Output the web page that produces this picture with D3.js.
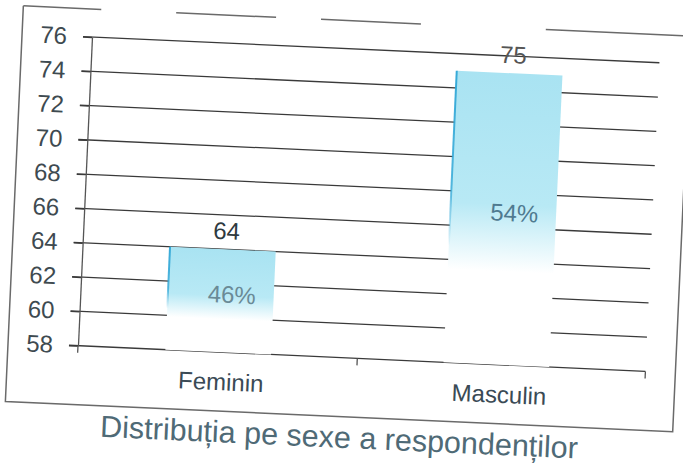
<!DOCTYPE html>
<html>
<head>
<meta charset="utf-8">
<script src="https://cdn.jsdelivr.net/npm/d3@7"></script>
<style>
  html, body { margin: 0; padding: 0; background: #ffffff; }
  svg { display: block; }
  text { font-family: "Liberation Sans", Arial, sans-serif; }
</style>
</head>
<body>
<script>
// ---- data ----
const categories = ["Feminin", "Masculin"];
const values = [64, 75];
const percentLabels = ["46%", "54%"];
const yTicks = [58, 60, 62, 64, 66, 68, 70, 72, 74, 76];
const titleText = "Distribuția pe sexe a respondenților";

// ---- layout ----
const W = 683, H = 468;
const svg = d3.select("body").append("svg").attr("width", W).attr("height", H);

const defs = svg.append("defs");
const barGrad = defs.append("linearGradient").attr("id", "barGrad")
  .attr("x1", 0).attr("y1", 0).attr("x2", 0).attr("y2", 1);
barGrad.append("stop").attr("offset", 0).attr("stop-color", "#a9e3f2");
barGrad.append("stop").attr("offset", 0.45).attr("stop-color", "#b8e9f5");
barGrad.append("stop").attr("offset", 0.68).attr("stop-color", "#ffffff");
barGrad.append("stop").attr("offset", 1).attr("stop-color", "#ffffff");

const edgeGrad = defs.append("linearGradient").attr("id", "edgeGrad")
  .attr("x1", 0).attr("y1", 0).attr("x2", 0).attr("y2", 1);
edgeGrad.append("stop").attr("offset", 0).attr("stop-color", "#2ea6d6").attr("stop-opacity", 0.95);
edgeGrad.append("stop").attr("offset", 0.4).attr("stop-color", "#2ea6d6").attr("stop-opacity", 0.8);
edgeGrad.append("stop").attr("offset", 0.6).attr("stop-color", "#2ea6d6").attr("stop-opacity", 0);

const g = svg.append("g").attr("transform", "rotate(2.6 92 37)");

const y = d3.scaleLinear().domain([58, 76]).range([346, 37]);
const x = d3.scaleBand().domain(categories).range([92, 660])
  .paddingInner(0.62).paddingOuter(0.33).align(0.476);

// outer frame (scan-like, top edge broken)
const fr = { x0: 22, y0: 9, x1: 690, y1: 405 };
g.append("path")
  .attr("d", `M${fr.x0},${fr.y0} L${fr.x0},${fr.y1} L${fr.x1},${fr.y1} L${fr.x1},${fr.y0 + 20}`)
  .attr("fill", "none").attr("stroke", "#6a6a6a").attr("stroke-width", 1.5);
g.append("line")
  .attr("x1", fr.x0).attr("x2", fr.x1).attr("y1", fr.y0).attr("y2", fr.y0)
  .attr("stroke", "#6a6a6a").attr("stroke-width", 1.5)
  .attr("stroke-dasharray", "78,75,100,45,100,125,145");

// gridlines
g.append("g").selectAll("line").data(yTicks).join("line")
  .attr("x1", 83).attr("x2", x.range()[1])
  .attr("y1", d => y(d)).attr("y2", d => y(d))
  .attr("stroke", "#3a3a3a").attr("stroke-width", 1.3);

// bars
g.append("g").selectAll("rect").data(values).join("rect")
  .attr("x", (d, i) => x(categories[i]))
  .attr("width", x.bandwidth())
  .attr("y", d => y(d))
  .attr("height", d => y(58) - y(d))
  .attr("fill", "url(#barGrad)");

// bar left edges
g.append("g").selectAll("rect").data(values).join("rect")
  .attr("x", (d, i) => x(categories[i]) - 1)
  .attr("width", 2)
  .attr("y", d => y(d))
  .attr("height", d => y(58) - y(d))
  .attr("fill", "url(#edgeGrad)");

// y axis
const yAxis = g.append("g").attr("transform", "translate(92,0)")
  .call(d3.axisLeft(y).tickValues(yTicks).tickSize(9).tickSizeOuter(0).tickPadding(16));
yAxis.select(".domain").attr("stroke", "#555").attr("stroke-width", 1.3);
yAxis.selectAll(".tick line").attr("stroke", "#3a3a3a").attr("stroke-width", 1.3);
yAxis.selectAll(".tick text")
  .attr("fill", "#3e4a50").style("font-size", "24px")
  .style("font-family", "'Liberation Sans', Arial, sans-serif");

// category boundary ticks
const boundaries = [x.range()[0],
  x(categories[0]) + x.bandwidth() + (x.step() - x.bandwidth()) / 2,
  x.range()[1]];
g.append("g").selectAll("line").data(boundaries).join("line")
  .attr("x1", d => d).attr("x2", d => d)
  .attr("y1", y(58)).attr("y2", y(58) + 7)
  .attr("stroke", "#555").attr("stroke-width", 1.3);

// category labels
g.append("g").selectAll("text").data(categories).join("text")
  .attr("x", d => x(d) + x.bandwidth() / 2 + 4)
  .attr("y", y(58) + 38)
  .attr("text-anchor", "middle")
  .attr("fill", "#3a4a55")
  .style("font-size", "24px")
  .text(d => d);

// value labels
g.append("g").selectAll("text").data(values).join("text")
  .attr("x", (d, i) => x(categories[i]) + x.bandwidth() / 2 + 3)
  .attr("y", d => y(d) - 10)
  .attr("text-anchor", "middle")
  .attr("fill", (d, i) => i === 0 ? "#2e3a40" : "#555")
  .style("font-size", "24px")
  .text(d => d);

// percentage labels
g.append("g").selectAll("text").data(values).join("text")
  .attr("x", (d, i) => x(categories[i]) + x.bandwidth() / 2 + 11)
  .attr("y", d => (y(d) + y(58)) / 2 + 2)
  .attr("text-anchor", "middle")
  .attr("fill", (d, i) => i === 0 ? "#6a8a96" : "#4f7a90")
  .style("font-size", "24px")
  .text((d, i) => percentLabels[i]);

// title
g.append("text")
  .attr("x", 357).attr("y", 436)
  .attr("text-anchor", "middle")
  .attr("fill", "#4f6a76")
  .style("font-size", "30.5px")
  .text(titleText);
</script>
</body>
</html>
